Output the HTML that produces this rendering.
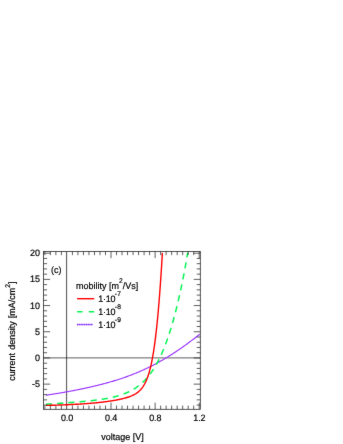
<!DOCTYPE html>
<html><head><meta charset="utf-8"><title>chart</title>
<style>
html,body{margin:0;padding:0;background:#fff;}
svg{display:block;}
text{font-family:"Liberation Sans",sans-serif;font-size:9.3px;fill:#000;stroke:#000;stroke-width:0.2px;text-rendering:geometricPrecision;}
.sup{font-size:6.9px;}
</style></head><body>
<svg width="343" height="444" viewBox="0 0 343 444">
<defs><filter id="soft" x="0" y="0" width="343" height="444" filterUnits="userSpaceOnUse" color-interpolation-filters="sRGB"><feConvolveMatrix order="3" kernelMatrix="0.01 0.05 0.01 0.05 0.76 0.05 0.01 0.05 0.01" divisor="1" edgeMode="duplicate" preserveAlpha="true"/></filter></defs>
<g filter="url(#soft)">
<rect width="343" height="444" fill="#fff"/>
<!-- zero lines -->
<path d="M43.5 357.8 H200.3" stroke="#000" stroke-opacity="0.5" stroke-width="1.2" fill="none"/><path d="M66.55 251.45 V409.3" stroke="#000" stroke-opacity="0.6" stroke-width="1.2" fill="none"/>
<!-- curves -->
<path d="M45.92 395.28 L46.71 395.16 L47.50 395.04 L48.29 394.92 L49.08 394.79 L49.87 394.67 L50.66 394.55 L51.45 394.42 L52.24 394.29 L53.03 394.17 L53.82 394.04 L54.61 393.91 L55.40 393.78 L56.18 393.65 L56.97 393.52 L57.76 393.39 L58.55 393.26 L59.34 393.13 L60.13 392.99 L60.91 392.86 L61.70 392.72 L62.49 392.58 L63.28 392.45 L64.06 392.31 L64.85 392.17 L65.64 392.03 L66.42 391.89 L67.21 391.74 L68.00 391.60 L68.78 391.46 L69.57 391.31 L70.36 391.16 L71.14 391.02 L71.93 390.87 L72.71 390.72 L73.50 390.57 L74.28 390.42 L75.07 390.26 L75.85 390.11 L76.64 389.96 L77.42 389.80 L78.20 389.64 L78.99 389.49 L79.77 389.33 L80.55 389.17 L81.34 389.00 L82.12 388.84 L82.90 388.68 L83.68 388.51 L84.46 388.34 L85.25 388.18 L86.03 388.01 L86.81 387.84 L87.59 387.67 L88.37 387.49 L89.15 387.32 L89.93 387.14 L90.71 386.96 L91.49 386.79 L92.27 386.61 L93.04 386.42 L93.82 386.24 L94.60 386.06 L95.38 385.87 L96.15 385.68 L96.93 385.49 L97.71 385.30 L98.48 385.11 L99.26 384.92 L100.03 384.72 L100.81 384.52 L101.58 384.32 L102.36 384.12 L103.13 383.92 L103.90 383.72 L104.67 383.51 L105.45 383.30 L106.22 383.09 L106.99 382.88 L107.76 382.67 L108.53 382.45 L109.30 382.23 L110.07 382.01 L110.83 381.79 L111.60 381.57 L112.37 381.34 L113.13 381.11 L113.90 380.88 L114.66 380.65 L115.43 380.42 L116.19 380.18 L116.96 379.94 L117.72 379.70 L118.48 379.46 L119.24 379.21 L120.00 378.96 L120.76 378.71 L121.52 378.46 L122.27 378.21 L123.03 377.95 L123.79 377.69 L124.54 377.43 L125.30 377.16 L126.05 376.90 L126.80 376.63 L127.55 376.35 L128.30 376.08 L129.05 375.80 L129.80 375.52 L130.55 375.24 L131.30 374.95 L132.04 374.66 L132.79 374.37 L133.53 374.08 L134.27 373.78 L135.02 373.49 L135.76 373.18 L136.50 372.88 L137.23 372.57 L137.97 372.26 L138.71 371.95 L139.44 371.64 L140.17 371.32 L140.91 371.00 L141.64 370.68 L142.37 370.35 L143.10 370.02 L143.82 369.69 L144.55 369.36 L145.27 369.02 L146.00 368.68 L146.72 368.34 L147.44 367.99 L148.16 367.65 L148.88 367.30 L149.60 366.94 L150.31 366.59 L151.03 366.23 L151.74 365.87 L152.45 365.50 L153.16 365.14 L153.87 364.77 L154.58 364.40 L155.29 364.02 L155.99 363.65 L156.70 363.27 L157.40 362.89 L158.10 362.50 L158.80 362.12 L159.50 361.73 L160.19 361.34 L160.89 360.94 L161.58 360.55 L162.28 360.15 L162.97 359.75 L163.66 359.34 L164.35 358.94 L165.04 358.53 L165.72 358.12 L166.41 357.71 L167.09 357.29 L167.77 356.88 L168.45 356.46 L169.13 356.04 L169.81 355.61 L170.49 355.19 L171.16 354.76 L171.84 354.33 L172.51 353.90 L173.18 353.47 L173.85 353.03 L174.52 352.60 L175.19 352.16 L175.86 351.72 L176.52 351.27 L177.19 350.83 L177.85 350.38 L178.51 349.93 L179.17 349.48 L179.83 349.03 L180.49 348.58 L181.15 348.12 L181.80 347.66 L182.46 347.21 L183.11 346.75 L183.76 346.28 L184.41 345.82 L185.06 345.36 L185.71 344.89 L186.36 344.42 L187.01 343.95 L187.65 343.48 L188.30 343.01 L188.94 342.53 L189.58 342.06 L190.23 341.58 L190.87 341.10 L191.51 340.62 L192.14 340.14 L192.78 339.66 L193.42 339.18 L194.05 338.69 L194.69 338.21 L195.32 337.72 L195.95 337.23 L196.59 336.74 L197.22 336.25 L197.85 335.76 L198.48 335.26 L199.10 334.77 L199.73 334.27" stroke="#9933ff" stroke-width="1.15" fill="none" stroke-linejoin="round"/>
<path d="M45.90 404.25 L46.70 404.20 L47.50 404.15 L48.29 404.10 L49.09 404.04 L49.89 403.99 L50.68 403.94 L51.48 403.89 L52.28 403.83 L53.07 403.78 L53.87 403.73 L54.67 403.67 L55.47 403.62 L56.26 403.57 L57.06 403.51 L57.86 403.46 L58.65 403.40 L59.45 403.35 L60.25 403.29 L61.04 403.24 L61.84 403.18 L62.64 403.13 L63.44 403.07 L64.23 403.01 L65.03 402.96 L65.83 402.90 L66.62 402.84 L67.42 402.78 L68.22 402.72 L69.01 402.66 L69.81 402.60 L70.60 402.54 L71.40 402.48 L72.20 402.42 L72.99 402.36 L73.79 402.29 L74.59 402.23 L75.38 402.16 L76.18 402.10 L76.98 402.03 L77.77 401.97 L78.57 401.90 L79.36 401.83 L80.16 401.76 L80.95 401.69 L81.75 401.62 L82.55 401.55 L83.34 401.47 L84.14 401.40 L84.93 401.32 L85.73 401.25 L86.52 401.17 L87.32 401.09 L88.11 401.01 L88.91 400.92 L89.70 400.84 L90.49 400.75 L91.29 400.66 L92.08 400.57 L92.88 400.48 L93.67 400.39 L94.46 400.29 L95.25 400.20 L96.05 400.10 L96.84 399.99 L97.63 399.89 L98.42 399.78 L99.21 399.67 L100.00 399.56 L100.80 399.44 L101.59 399.32 L102.37 399.20 L103.16 399.08 L103.95 398.95 L104.74 398.82 L105.53 398.68 L106.31 398.54 L107.10 398.40 L107.88 398.25 L108.67 398.10 L109.45 397.94 L110.23 397.78 L111.02 397.61 L111.80 397.44 L112.57 397.27 L113.35 397.08 L114.13 396.90 L114.90 396.70 L115.68 396.50 L116.45 396.30 L117.22 396.08 L117.99 395.86 L118.75 395.64 L119.52 395.41 L120.28 395.16 L121.04 394.92 L121.80 394.66 L122.55 394.40 L123.30 394.12 L124.05 393.84 L124.79 393.55 L125.53 393.26 L126.27 392.95 L127.01 392.63 L127.73 392.31 L128.46 391.97 L129.18 391.63 L129.90 391.28 L130.61 390.91 L131.31 390.54 L132.02 390.16 L132.71 389.76 L133.40 389.36 L134.08 388.95 L134.76 388.52 L135.43 388.09 L136.10 387.65 L136.76 387.19 L137.41 386.73 L138.05 386.26 L138.69 385.78 L139.32 385.29 L139.94 384.79 L140.56 384.28 L141.16 383.76 L141.76 383.23 L142.36 382.69 L142.94 382.15 L143.52 381.60 L144.09 381.04 L144.65 380.47 L145.20 379.89 L145.75 379.31 L146.29 378.72 L146.82 378.12 L147.34 377.52 L147.86 376.91 L148.37 376.30 L148.87 375.67 L149.36 375.05 L149.85 374.41 L150.33 373.78 L150.80 373.13 L151.27 372.48 L151.73 371.83 L152.18 371.17 L152.63 370.51 L153.07 369.84 L153.51 369.17 L153.93 368.50 L154.36 367.82 L154.77 367.14 L155.18 366.46 L155.59 365.77 L155.99 365.08 L156.38 364.38 L156.77 363.68 L157.16 362.98 L157.53 362.28 L157.91 361.57 L158.28 360.86 L158.64 360.15 L159.00 359.44 L159.36 358.72 L159.71 358.01 L160.05 357.29 L160.39 356.56 L160.73 355.84 L161.07 355.12 L161.40 354.39 L161.72 353.66 L162.04 352.93 L162.36 352.20 L162.68 351.46 L162.99 350.73 L163.30 349.99 L163.60 349.25 L163.90 348.51 L164.20 347.77 L164.50 347.03 L164.79 346.28 L165.08 345.54 L165.36 344.79 L165.65 344.05 L165.93 343.30 L166.20 342.55 L166.48 341.80 L166.75 341.05 L167.02 340.29 L167.28 339.54 L167.55 338.79 L167.81 338.03 L168.07 337.28 L168.33 336.52 L168.58 335.76 L168.83 335.01 L169.08 334.25 L169.33 333.49 L169.58 332.73 L169.82 331.97 L170.06 331.21 L170.30 330.44 L170.54 329.68 L170.77 328.92 L171.01 328.15 L171.24 327.39 L171.47 326.62 L171.70 325.86 L171.92 325.09 L172.15 324.33 L172.37 323.56 L172.59 322.79 L172.81 322.02 L173.03 321.25 L173.24 320.48 L173.46 319.72 L173.67 318.95 L173.88 318.17 L174.09 317.40 L174.30 316.63 L174.51 315.86 L174.71 315.09 L174.92 314.32 L175.12 313.54 L175.32 312.77 L175.52 312.00 L175.72 311.22 L175.92 310.45 L176.11 309.68 L176.31 308.90 L176.50 308.13 L176.69 307.35 L176.88 306.58 L177.07 305.80 L177.26 305.02 L177.45 304.25 L177.64 303.47 L177.82 302.69 L178.01 301.92 L178.19 301.14 L178.37 300.36 L178.55 299.58 L178.73 298.80 L178.91 298.03 L179.09 297.25 L179.27 296.47 L179.44 295.69 L179.62 294.91 L179.79 294.13 L179.96 293.35 L180.14 292.57 L180.31 291.79 L180.48 291.01 L180.65 290.23 L180.81 289.45 L180.98 288.67 L181.15 287.88 L181.31 287.10 L181.48 286.32 L181.64 285.54 L181.80 284.76 L181.97 283.98 L182.13 283.19 L182.29 282.41 L182.45 281.63 L182.60 280.84 L182.76 280.06 L182.92 279.28 L183.07 278.49 L183.23 277.71 L183.38 276.93 L183.54 276.14 L183.69 275.36 L183.84 274.57 L183.99 273.79 L184.14 273.01 L184.29 272.22 L184.44 271.44 L184.58 270.65 L184.73 269.86 L184.88 269.08 L185.02 268.29 L185.16 267.51 L185.31 266.72 L185.45 265.94 L185.59 265.15 L185.73 264.36 L185.87 263.58 L186.01 262.79 L186.14 262.00 L186.28 261.22 L186.42 260.43 L186.55 259.64 L186.68 258.85 L186.82 258.07 L186.95 257.28 L187.08 256.49 L187.21 255.70 L187.34 254.91 L187.47 254.13 L187.59 253.34 L187.72 252.55" stroke="#05f552" stroke-width="1.5" fill="none" stroke-dasharray="6.2 5.02" stroke-linejoin="round"/>
<path d="M45.92 405.42 L46.72 405.40 L47.52 405.38 L48.32 405.36 L49.12 405.34 L49.92 405.32 L50.72 405.29 L51.52 405.27 L52.32 405.25 L53.12 405.23 L53.92 405.20 L54.71 405.18 L55.51 405.16 L56.31 405.13 L57.11 405.11 L57.91 405.08 L58.71 405.05 L59.51 405.03 L60.31 405.00 L61.11 404.97 L61.90 404.94 L62.70 404.91 L63.50 404.88 L64.30 404.85 L65.10 404.82 L65.90 404.78 L66.70 404.75 L67.50 404.71 L68.29 404.68 L69.09 404.64 L69.89 404.61 L70.69 404.57 L71.49 404.53 L72.29 404.49 L73.08 404.45 L73.88 404.41 L74.68 404.37 L75.48 404.32 L76.28 404.28 L77.08 404.23 L77.87 404.19 L78.67 404.14 L79.47 404.09 L80.27 404.04 L81.07 403.99 L81.86 403.94 L82.66 403.89 L83.46 403.83 L84.26 403.78 L85.05 403.72 L85.85 403.66 L86.65 403.60 L87.44 403.54 L88.24 403.48 L89.04 403.42 L89.83 403.35 L90.63 403.29 L91.43 403.22 L92.22 403.15 L93.02 403.08 L93.82 403.00 L94.61 402.93 L95.41 402.85 L96.20 402.78 L97.00 402.70 L97.79 402.61 L98.59 402.53 L99.38 402.45 L100.18 402.36 L100.97 402.27 L101.77 402.18 L102.56 402.08 L103.35 401.99 L104.15 401.89 L104.94 401.79 L105.73 401.69 L106.53 401.58 L107.32 401.47 L108.11 401.36 L108.90 401.25 L109.69 401.13 L110.48 401.01 L111.27 400.89 L112.06 400.76 L112.85 400.64 L113.64 400.50 L114.43 400.37 L115.21 400.23 L116.00 400.09 L116.79 399.94 L117.57 399.79 L118.36 399.63 L119.14 399.47 L119.92 399.31 L120.70 399.14 L121.48 398.96 L122.26 398.78 L123.04 398.59 L123.81 398.39 L124.58 398.19 L125.35 397.98 L126.12 397.76 L126.89 397.53 L127.65 397.29 L128.41 397.04 L129.17 396.77 L129.92 396.50 L130.66 396.21 L131.40 395.91 L132.13 395.59 L132.86 395.25 L133.58 394.90 L134.28 394.53 L134.98 394.14 L135.67 393.73 L136.34 393.29 L137.00 392.84 L137.64 392.37 L138.27 391.87 L138.87 391.35 L139.46 390.81 L140.04 390.25 L140.59 389.67 L141.12 389.08 L141.63 388.46 L142.13 387.83 L142.60 387.19 L143.06 386.53 L143.49 385.86 L143.91 385.18 L144.32 384.49 L144.70 383.80 L145.07 383.09 L145.43 382.37 L145.78 381.65 L146.11 380.92 L146.43 380.19 L146.73 379.45 L147.03 378.71 L147.32 377.96 L147.59 377.21 L147.86 376.46 L148.12 375.70 L148.37 374.95 L148.61 374.18 L148.85 373.42 L149.08 372.65 L149.30 371.89 L149.52 371.12 L149.73 370.35 L149.93 369.57 L150.13 368.80 L150.32 368.02 L150.51 367.25 L150.70 366.47 L150.88 365.69 L151.05 364.91 L151.23 364.13 L151.39 363.35 L151.56 362.57 L151.72 361.78 L151.88 361.00 L152.03 360.22 L152.18 359.43 L152.33 358.64 L152.48 357.86 L152.62 357.07 L152.76 356.29 L152.90 355.50 L153.04 354.71 L153.17 353.92 L153.30 353.13 L153.43 352.34 L153.55 351.56 L153.68 350.77 L153.80 349.98 L153.92 349.19 L154.04 348.40 L154.16 347.60 L154.27 346.81 L154.39 346.02 L154.50 345.23 L154.61 344.44 L154.72 343.65 L154.82 342.85 L154.93 342.06 L155.04 341.27 L155.14 340.48 L155.24 339.68 L155.34 338.89 L155.44 338.10 L155.54 337.30 L155.64 336.51 L155.73 335.72 L155.83 334.92 L155.92 334.13 L156.01 333.34 L156.10 332.54 L156.19 331.75 L156.28 330.95 L156.37 330.16 L156.46 329.36 L156.55 328.57 L156.63 327.78 L156.72 326.98 L156.80 326.19 L156.88 325.39 L156.97 324.60 L157.05 323.80 L157.13 323.00 L157.21 322.21 L157.29 321.41 L157.37 320.62 L157.44 319.82 L157.52 319.03 L157.60 318.23 L157.67 317.44 L157.75 316.64 L157.82 315.84 L157.90 315.05 L157.97 314.25 L158.04 313.46 L158.12 312.66 L158.19 311.86 L158.26 311.07 L158.33 310.27 L158.40 309.48 L158.47 308.68 L158.54 307.88 L158.60 307.09 L158.67 306.29 L158.74 305.49 L158.81 304.70 L158.87 303.90 L158.94 303.10 L159.00 302.31 L159.07 301.51 L159.13 300.71 L159.20 299.92 L159.26 299.12 L159.32 298.32 L159.39 297.53 L159.45 296.73 L159.51 295.93 L159.57 295.13 L159.63 294.34 L159.69 293.54 L159.75 292.74 L159.81 291.95 L159.87 291.15 L159.93 290.35 L159.99 289.55 L160.05 288.76 L160.11 287.96 L160.16 287.16 L160.22 286.37 L160.28 285.57 L160.34 284.77 L160.39 283.97 L160.45 283.18 L160.50 282.38 L160.56 281.58 L160.61 280.78 L160.67 279.99 L160.72 279.19 L160.78 278.39 L160.83 277.59 L160.89 276.80 L160.94 276.00 L160.99 275.20 L161.04 274.40 L161.10 273.61 L161.15 272.81 L161.20 272.01 L161.25 271.21 L161.30 270.42 L161.36 269.62 L161.41 268.82 L161.46 268.02 L161.51 267.22 L161.56 266.43 L161.61 265.63 L161.66 264.83 L161.71 264.03 L161.76 263.24 L161.81 262.44 L161.86 261.64 L161.90 260.84 L161.95 260.04 L162.00 259.25 L162.05 258.45 L162.10 257.65 L162.14 256.85 L162.19 256.05 L162.24 255.26 L162.29 254.46 L162.33 253.66 L162.38 252.86" stroke="#ff0000" stroke-width="1.4" fill="none" stroke-linejoin="round"/>
<!-- frame + ticks -->
<rect x="43.5" y="251.45" width="156.80" height="157.85" fill="none" stroke="#2a2a2a" stroke-width="0.8"/>
<path d="M44.85 409.30 V405.60 M44.85 251.45 V255.15 M50.36 409.30 V405.60 M50.36 251.45 V255.15 M55.87 409.30 V405.60 M55.87 251.45 V255.15 M61.39 409.30 V405.60 M61.39 251.45 V255.15 M72.41 409.30 V405.60 M72.41 251.45 V255.15 M77.93 409.30 V405.60 M77.93 251.45 V255.15 M83.44 409.30 V405.60 M83.44 251.45 V255.15 M88.95 409.30 V405.60 M88.95 251.45 V255.15 M94.47 409.30 V405.60 M94.47 251.45 V255.15 M99.98 409.30 V405.60 M99.98 251.45 V255.15 M105.49 409.30 V405.60 M105.49 251.45 V255.15 M111.01 409.30 V402.60 M111.01 251.45 V258.15 M116.52 409.30 V405.60 M116.52 251.45 V255.15 M122.03 409.30 V405.60 M122.03 251.45 V255.15 M127.55 409.30 V405.60 M127.55 251.45 V255.15 M133.06 409.30 V405.60 M133.06 251.45 V255.15 M138.58 409.30 V405.60 M138.58 251.45 V255.15 M144.09 409.30 V405.60 M144.09 251.45 V255.15 M149.60 409.30 V405.60 M149.60 251.45 V255.15 M155.12 409.30 V402.60 M155.12 251.45 V258.15 M160.63 409.30 V405.60 M160.63 251.45 V255.15 M166.14 409.30 V405.60 M166.14 251.45 V255.15 M171.66 409.30 V405.60 M171.66 251.45 V255.15 M177.17 409.30 V405.60 M177.17 251.45 V255.15 M182.68 409.30 V405.60 M182.68 251.45 V255.15 M188.20 409.30 V405.60 M188.20 251.45 V255.15 M193.71 409.30 V405.60 M193.71 251.45 V255.15 M199.22 409.30 V402.60 M199.22 251.45 V258.15 M43.50 405.09 H47.10 M200.30 405.09 H196.70 M43.50 399.85 H47.10 M200.30 399.85 H196.70 M43.50 394.61 H47.10 M200.30 394.61 H196.70 M43.50 389.38 H47.10 M200.30 389.38 H196.70 M43.50 384.14 H50.10 M200.30 384.14 H193.70 M43.50 378.90 H47.10 M200.30 378.90 H196.70 M43.50 373.66 H47.10 M200.30 373.66 H196.70 M43.50 368.43 H47.10 M200.30 368.43 H196.70 M43.50 363.19 H47.10 M200.30 363.19 H196.70 M43.50 357.95 H50.10 M200.30 357.95 H193.70 M43.50 352.71 H47.10 M200.30 352.71 H196.70 M43.50 347.47 H47.10 M200.30 347.47 H196.70 M43.50 342.24 H47.10 M200.30 342.24 H196.70 M43.50 337.00 H47.10 M200.30 337.00 H196.70 M43.50 331.76 H50.10 M200.30 331.76 H193.70 M43.50 326.52 H47.10 M200.30 326.52 H196.70 M43.50 321.29 H47.10 M200.30 321.29 H196.70 M43.50 316.05 H47.10 M200.30 316.05 H196.70 M43.50 310.81 H47.10 M200.30 310.81 H196.70 M43.50 305.57 H50.10 M200.30 305.57 H193.70 M43.50 300.34 H47.10 M200.30 300.34 H196.70 M43.50 295.10 H47.10 M200.30 295.10 H196.70 M43.50 289.86 H47.10 M200.30 289.86 H196.70 M43.50 284.62 H47.10 M200.30 284.62 H196.70 M43.50 279.39 H50.10 M200.30 279.39 H193.70 M43.50 274.15 H47.10 M200.30 274.15 H196.70 M43.50 268.91 H47.10 M200.30 268.91 H196.70 M43.50 263.68 H47.10 M200.30 263.68 H196.70 M43.50 258.44 H47.10 M200.30 258.44 H196.70 M43.50 253.20 H50.10 M200.30 253.20 H193.70" stroke="#2a2a2a" stroke-width="0.75" fill="none"/>
<!-- legend samples -->
<path d="M77.1 298.7 H94.2" stroke="#ff0000" stroke-width="1.4"/>
<path d="M77.1 311.7 H94.2" stroke="#05f552" stroke-width="1.5" stroke-dasharray="5.4 6.3"/>
<path d="M77.0 324.6 H92.9" stroke="#c8a2ff" stroke-width="1.3"/><path d="M77.0 324.6 H93.0" stroke="#7a1cff" stroke-width="1.5" stroke-dasharray="1.05 0.73"/>
<!-- labels -->
<g style="filter:grayscale(1)">
<text transform="translate(39.80 256.25) scale(0.965 1)" text-anchor="end" style="letter-spacing:-0.15px">20</text><text transform="translate(39.80 282.44) scale(0.965 1)" text-anchor="end" style="letter-spacing:-0.15px">15</text><text transform="translate(39.80 308.62) scale(0.965 1)" text-anchor="end" style="letter-spacing:-0.15px">10</text><text transform="translate(39.80 334.81) scale(0.965 1)" text-anchor="end" style="letter-spacing:-0.15px">5</text><text transform="translate(39.80 361.00) scale(0.965 1)" text-anchor="end" style="letter-spacing:-0.15px">0</text><text transform="translate(39.80 387.19) scale(0.965 1)" text-anchor="end" style="letter-spacing:-0.15px">-5</text>
<text transform="translate(67.00 421.00) scale(0.965 1)" text-anchor="middle" style="letter-spacing:-0.15px">0.0</text><text transform="translate(111.11 421.00) scale(0.965 1)" text-anchor="middle" style="letter-spacing:-0.15px">0.4</text><text transform="translate(155.22 421.00) scale(0.965 1)" text-anchor="middle" style="letter-spacing:-0.15px">0.8</text><text transform="translate(199.32 421.00) scale(0.965 1)" text-anchor="middle" style="letter-spacing:-0.15px">1.2</text>
<text transform="translate(122.45 439.90) scale(0.965 1)" text-anchor="middle">voltage [V]</text>
<text word-spacing="0.7" transform="translate(15.40 331.20) rotate(-90) scale(0.965 1)" text-anchor="middle">current density [mA/cm<tspan class="sup" dy="-5.8">2</tspan><tspan dy="5.8">]</tspan></text>
<text transform="translate(51.00 272.70) scale(0.965 1)" text-anchor="start">(c)</text>
<text transform="translate(76.10 288.90) scale(0.965 1)" text-anchor="start">mobility [m<tspan class="sup" dy="-6.0">2</tspan><tspan dy="6.0">/Vs]</tspan></text>
<text transform="translate(98.20 301.50) scale(0.965 1)" text-anchor="start" style="letter-spacing:-0.2px">1·10<tspan class="sup" dy="-5.4" dx="-0.6" style="letter-spacing:0.25px">-7</tspan></text>
<text transform="translate(98.20 314.60) scale(0.965 1)" text-anchor="start" style="letter-spacing:-0.2px">1·10<tspan class="sup" dy="-5.4" dx="-0.6" style="letter-spacing:0.25px">-8</tspan></text>
<text transform="translate(98.20 327.70) scale(0.965 1)" text-anchor="start" style="letter-spacing:-0.2px">1·10<tspan class="sup" dy="-5.4" dx="-0.6" style="letter-spacing:0.25px">-9</tspan></text>
</g>
</g>
</svg>
</body></html>
